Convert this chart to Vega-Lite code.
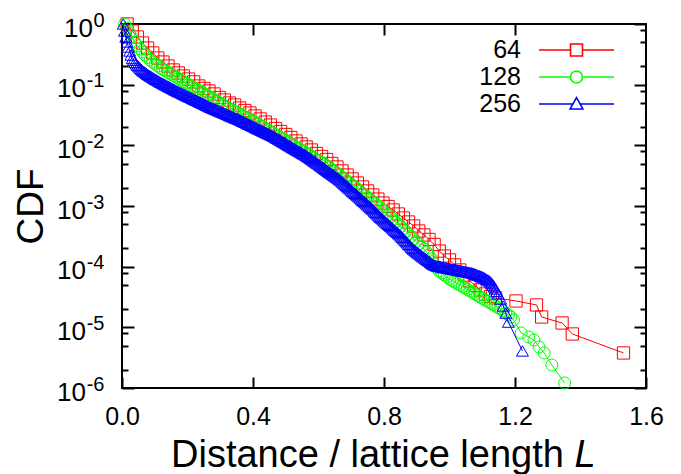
{
"$schema":"https://vega.github.io/schema/vega-lite/v6.json",
"width":524,"height":364,
"autosize":{"type":"none"},
"padding":{"left":122,"top":24,"right":35,"bottom":86},
"background":"white",
"config":{"font":"Liberation Sans","view":{"stroke":"#000000","strokeWidth":2},
"axis":{"domain":false,"grid":false,"tickColor":"#000000","tickWidth":2,"labelColor":"#000000","labelFont":"Liberation Sans","titleFont":"Liberation Sans","titleColor":"#000000","titleFontWeight":"normal","labelFlush":false,"labelOverlap":false}},
"datasets":{
"d64":[
{"s":"64","x":0.0156,"y":1},{"s":"64","x":0.0313,"y":0.766},{"s":"64","x":0.0469,"y":0.611},{"s":"64","x":0.0625,"y":0.486},{"s":"64","x":0.0781,"y":0.402},{"s":"64","x":0.0938,"y":0.333},{"s":"64","x":0.1094,"y":0.275},{"s":"64","x":0.125,"y":0.236},{"s":"64","x":0.1406,"y":0.203},{"s":"64","x":0.1563,"y":0.1745},{"s":"64","x":0.1719,"y":0.156},{"s":"64","x":0.1875,"y":0.139},{"s":"64","x":0.2031,"y":0.124},{"s":"64","x":0.2188,"y":0.111},{"s":"64","x":0.2344,"y":0.0951},{"s":"64","x":0.25,"y":0.0865},{"s":"64","x":0.2656,"y":0.0787},{"s":"64","x":0.2813,"y":0.0702},{"s":"64","x":0.2969,"y":0.0615},{"s":"64","x":0.3125,"y":0.0559},{"s":"64","x":0.3281,"y":0.0499},{"s":"64","x":0.3438,"y":0.0462},{"s":"64","x":0.3594,"y":0.0412},{"s":"64","x":0.375,"y":0.0375},{"s":"64","x":0.3906,"y":0.0341},{"s":"64","x":0.4063,"y":0.0305},{"s":"64","x":0.4219,"y":0.0272},{"s":"64","x":0.4375,"y":0.0242},{"s":"64","x":0.4531,"y":0.0216},{"s":"64","x":0.4688,"y":0.0189},{"s":"64","x":0.4844,"y":0.0169},{"s":"64","x":0.5,"y":0.0151},{"s":"64","x":0.5156,"y":0.01346},{"s":"64","x":0.5313,"y":0.01179},{"s":"64","x":0.5469,"y":0.01052},{"s":"64","x":0.5625,"y":0.00939},{"s":"64","x":0.5781,"y":0.00838},{"s":"64","x":0.5938,"y":0.00734},{"s":"64","x":0.6094,"y":0.00655},{"s":"64","x":0.625,"y":0.00584},{"s":"64","x":0.6406,"y":0.00502},{"s":"64","x":0.6563,"y":0.0044},{"s":"64","x":0.6719,"y":0.00378},{"s":"64","x":0.6875,"y":0.00324},{"s":"64","x":0.7031,"y":0.00279},{"s":"64","x":0.7188,"y":0.00239},{"s":"64","x":0.7344,"y":0.00206},{"s":"64","x":0.75,"y":0.00177},{"s":"64","x":0.7656,"y":0.00152},{"s":"64","x":0.7813,"y":0.0013},{"s":"64","x":0.7969,"y":0.00112},{"s":"64","x":0.8125,"y":0.000981},{"s":"64","x":0.8281,"y":0.000859},{"s":"64","x":0.8438,"y":0.000738},{"s":"64","x":0.8594,"y":0.000634},{"s":"64","x":0.875,"y":0.000545},{"s":"64","x":0.8906,"y":0.000468},{"s":"64","x":0.9063,"y":0.000387},{"s":"64","x":0.9219,"y":0.000333},{"s":"64","x":0.9375,"y":0.000281},{"s":"64","x":0.9531,"y":0.000232},{"s":"64","x":0.9688,"y":0.000181},{"s":"64","x":0.9844,"y":0.00015},{"s":"64","x":1.0,"y":0.000129},{"s":"64","x":1.0156,"y":0.000107},{"s":"64","x":1.0313,"y":0.0000882},{"s":"64","x":1.0469,"y":0.0000729},{"s":"64","x":1.0625,"y":0.0000581},{"s":"64","x":1.0781,"y":0.000049},{"s":"64","x":1.0938,"y":0.0000413},{"s":"64","x":1.1094,"y":0.0000355},{"s":"64","x":1.125,"y":0.0000323},{"s":"64","x":1.1406,"y":0.0000305},{"s":"64","x":1.2031,"y":0.0000272},{"s":"64","x":1.2656,"y":0.0000234},{"s":"64","x":1.2813,"y":0.0000148},{"s":"64","x":1.3438,"y":0.0000118},{"s":"64","x":1.375,"y":0.00000777},{"s":"64","x":1.5313,"y":0.00000378}
],
"d128":[
{"s":"128","x":0.0078,"y":1},{"s":"128","x":0.0156,"y":0.859},{"s":"128","x":0.0234,"y":0.711},{"s":"128","x":0.0313,"y":0.599},{"s":"128","x":0.0391,"y":0.505},{"s":"128","x":0.0469,"y":0.442},{"s":"128","x":0.0547,"y":0.387},{"s":"128","x":0.0625,"y":0.3455},{"s":"128","x":0.0703,"y":0.308},{"s":"128","x":0.0781,"y":0.2805},{"s":"128","x":0.0859,"y":0.255},{"s":"128","x":0.0938,"y":0.236},{"s":"128","x":0.1016,"y":0.219},{"s":"128","x":0.1094,"y":0.203},{"s":"128","x":0.1172,"y":0.188},{"s":"128","x":0.125,"y":0.178},{"s":"128","x":0.1328,"y":0.168},{"s":"128","x":0.1406,"y":0.159},{"s":"128","x":0.1484,"y":0.15},{"s":"128","x":0.1563,"y":0.1416},{"s":"128","x":0.1641,"y":0.1338},{"s":"128","x":0.1719,"y":0.1264},{"s":"128","x":0.1797,"y":0.1194},{"s":"128","x":0.1875,"y":0.1128},{"s":"128","x":0.1953,"y":0.1065},{"s":"128","x":0.2031,"y":0.1006},{"s":"128","x":0.2109,"y":0.0951},{"s":"128","x":0.2188,"y":0.0898},{"s":"128","x":0.2266,"y":0.0848},{"s":"128","x":0.2344,"y":0.0801},{"s":"128","x":0.2422,"y":0.0757},{"s":"128","x":0.25,"y":0.0715},{"s":"128","x":0.2578,"y":0.0676},{"s":"128","x":0.2656,"y":0.0638},{"s":"128","x":0.2734,"y":0.0603},{"s":"128","x":0.2813,"y":0.0569},{"s":"128","x":0.2891,"y":0.0538},{"s":"128","x":0.2969,"y":0.0508},{"s":"128","x":0.3047,"y":0.048},{"s":"128","x":0.3125,"y":0.0454},{"s":"128","x":0.3203,"y":0.0428},{"s":"128","x":0.3281,"y":0.0405},{"s":"128","x":0.3359,"y":0.0382},{"s":"128","x":0.3438,"y":0.0361},{"s":"128","x":0.3516,"y":0.0348},{"s":"128","x":0.3594,"y":0.0328},{"s":"128","x":0.3672,"y":0.031},{"s":"128","x":0.375,"y":0.0293},{"s":"128","x":0.3828,"y":0.0277},{"s":"128","x":0.3906,"y":0.0267},{"s":"128","x":0.3984,"y":0.0252},{"s":"128","x":0.4063,"y":0.0238},{"s":"128","x":0.4141,"y":0.0225},{"s":"128","x":0.4219,"y":0.0212},{"s":"128","x":0.4297,"y":0.0201},{"s":"128","x":0.4375,"y":0.0189},{"s":"128","x":0.4453,"y":0.0179},{"s":"128","x":0.4531,"y":0.0169},{"s":"128","x":0.4609,"y":0.016},{"s":"128","x":0.4688,"y":0.0151},{"s":"128","x":0.4766,"y":0.01425},{"s":"128","x":0.4844,"y":0.01346},{"s":"128","x":0.4922,"y":0.01272},{"s":"128","x":0.5,"y":0.01202},{"s":"128","x":0.5078,"y":0.01135},{"s":"128","x":0.5156,"y":0.01072},{"s":"128","x":0.5234,"y":0.01005},{"s":"128","x":0.5313,"y":0.00939},{"s":"128","x":0.5391,"y":0.00887},{"s":"128","x":0.5469,"y":0.00838},{"s":"128","x":0.5547,"y":0.00792},{"s":"128","x":0.5625,"y":0.00748},{"s":"128","x":0.5703,"y":0.00706},{"s":"128","x":0.5781,"y":0.00667},{"s":"128","x":0.5859,"y":0.00626},{"s":"128","x":0.5938,"y":0.00584},{"s":"128","x":0.6016,"y":0.00552},{"s":"128","x":0.6094,"y":0.00521},{"s":"128","x":0.6172,"y":0.00493},{"s":"128","x":0.625,"y":0.00462},{"s":"128","x":0.6328,"y":0.00431},{"s":"128","x":0.6406,"y":0.004},{"s":"128","x":0.6484,"y":0.0037},{"s":"128","x":0.6563,"y":0.0035},{"s":"128","x":0.6641,"y":0.00324},{"s":"128","x":0.6719,"y":0.00301},{"s":"128","x":0.6797,"y":0.00279},{"s":"128","x":0.6875,"y":0.00258},{"s":"128","x":0.6953,"y":0.00239},{"s":"128","x":0.7031,"y":0.00222},{"s":"128","x":0.7109,"y":0.00206},{"s":"128","x":0.7188,"y":0.00191},{"s":"128","x":0.7266,"y":0.00175},{"s":"128","x":0.7344,"y":0.00161},{"s":"128","x":0.7422,"y":0.00149},{"s":"128","x":0.75,"y":0.00138},{"s":"128","x":0.7578,"y":0.00128},{"s":"128","x":0.7656,"y":0.00119},{"s":"128","x":0.7734,"y":0.00109},{"s":"128","x":0.7813,"y":0.001},{"s":"128","x":0.7891,"y":0.000927},{"s":"128","x":0.7969,"y":0.000843},{"s":"128","x":0.8047,"y":0.000767},{"s":"128","x":0.8125,"y":0.000711},{"s":"128","x":0.8203,"y":0.000659},{"s":"128","x":0.8281,"y":0.000599},{"s":"128","x":0.8359,"y":0.000545},{"s":"128","x":0.8438,"y":0.000505},{"s":"128","x":0.8516,"y":0.00046},{"s":"128","x":0.8594,"y":0.000418},{"s":"128","x":0.8672,"y":0.00038},{"s":"128","x":0.875,"y":0.000346},{"s":"128","x":0.8828,"y":0.000314},{"s":"128","x":0.8906,"y":0.000286},{"s":"128","x":0.8984,"y":0.00026},{"s":"128","x":0.9063,"y":0.000236},{"s":"128","x":0.9141,"y":0.000215},{"s":"128","x":0.9219,"y":0.000196},{"s":"128","x":0.9297,"y":0.000174},{"s":"128","x":0.9375,"y":0.000156},{"s":"128","x":0.9453,"y":0.000134},{"s":"128","x":0.9531,"y":0.000111},{"s":"128","x":0.9609,"y":0.0000951},{"s":"128","x":0.9688,"y":0.0000849},{"s":"128","x":0.9766,"y":0.0000787},{"s":"128","x":0.9844,"y":0.0000729},{"s":"128","x":0.9922,"y":0.0000676},{"s":"128","x":1.0,"y":0.0000626},{"s":"128","x":1.0078,"y":0.0000592},{"s":"128","x":1.0156,"y":0.0000559},{"s":"128","x":1.0234,"y":0.0000528},{"s":"128","x":1.0313,"y":0.0000499},{"s":"128","x":1.0391,"y":0.0000471},{"s":"128","x":1.0469,"y":0.0000445},{"s":"128","x":1.0547,"y":0.0000421},{"s":"128","x":1.0625,"y":0.0000397},{"s":"128","x":1.0703,"y":0.0000375},{"s":"128","x":1.0781,"y":0.0000355},{"s":"128","x":1.0859,"y":0.0000335},{"s":"128","x":1.0938,"y":0.0000316},{"s":"128","x":1.1016,"y":0.0000299},{"s":"128","x":1.1094,"y":0.0000282},{"s":"128","x":1.1172,"y":0.0000267},{"s":"128","x":1.125,"y":0.0000252},{"s":"128","x":1.1328,"y":0.0000238},{"s":"128","x":1.1406,"y":0.0000225},{"s":"128","x":1.1484,"y":0.0000212},{"s":"128","x":1.1563,"y":0.0000201},{"s":"128","x":1.1641,"y":0.0000186},{"s":"128","x":1.1719,"y":0.0000172},{"s":"128","x":1.1797,"y":0.000016},{"s":"128","x":1.1875,"y":0.0000148},{"s":"128","x":1.1953,"y":0.0000132},{"s":"128","x":1.2188,"y":0.00000807},{"s":"128","x":1.2422,"y":0.00000693},{"s":"128","x":1.2578,"y":0.00000619},{"s":"128","x":1.2734,"y":0.00000474},{"s":"128","x":1.2891,"y":0.00000378},{"s":"128","x":1.3125,"y":0.00000239},{"s":"128","x":1.3516,"y":0.00000121}
],
"d256":[
{"s":"256","x":0.0039,"y":1},{"s":"256","x":0.0078,"y":0.766},{"s":"256","x":0.0117,"y":0.6105},{"s":"256","x":0.0156,"y":0.505},{"s":"256","x":0.0195,"y":0.418},{"s":"256","x":0.0234,"y":0.359},{"s":"256","x":0.0273,"y":0.308},{"s":"256","x":0.0313,"y":0.27},{"s":"256","x":0.0352,"y":0.252},{"s":"256","x":0.0391,"y":0.2337},{"s":"256","x":0.043,"y":0.2207},{"s":"256","x":0.0469,"y":0.2078},{"s":"256","x":0.0508,"y":0.198},{"s":"256","x":0.0547,"y":0.1882},{"s":"256","x":0.0586,"y":0.1797},{"s":"256","x":0.0625,"y":0.1713},{"s":"256","x":0.0664,"y":0.1653},{"s":"256","x":0.0703,"y":0.1593},{"s":"256","x":0.0742,"y":0.1537},{"s":"256","x":0.0781,"y":0.1482},{"s":"256","x":0.082,"y":0.1436},{"s":"256","x":0.0859,"y":0.139},{"s":"256","x":0.0898,"y":0.1349},{"s":"256","x":0.0938,"y":0.1308},{"s":"256","x":0.0977,"y":0.127},{"s":"256","x":0.1016,"y":0.1231},{"s":"256","x":0.1055,"y":0.1197},{"s":"256","x":0.1094,"y":0.1163},{"s":"256","x":0.1133,"y":0.113},{"s":"256","x":0.1172,"y":0.1098},{"s":"256","x":0.1211,"y":0.1071},{"s":"256","x":0.125,"y":0.1045},{"s":"256","x":0.1289,"y":0.1018},{"s":"256","x":0.1328,"y":0.0991},{"s":"256","x":0.1367,"y":0.0965},{"s":"256","x":0.1406,"y":0.094},{"s":"256","x":0.1445,"y":0.0917},{"s":"256","x":0.1484,"y":0.0895},{"s":"256","x":0.1523,"y":0.0871},{"s":"256","x":0.1563,"y":0.0848},{"s":"256","x":0.1602,"y":0.0826},{"s":"256","x":0.1641,"y":0.0804},{"s":"256","x":0.168,"y":0.0786},{"s":"256","x":0.1719,"y":0.0769},{"s":"256","x":0.1758,"y":0.0752},{"s":"256","x":0.1797,"y":0.0735},{"s":"256","x":0.1836,"y":0.0717},{"s":"256","x":0.1875,"y":0.0699},{"s":"256","x":0.1914,"y":0.0682},{"s":"256","x":0.1953,"y":0.0665},{"s":"256","x":0.1992,"y":0.065},{"s":"256","x":0.2031,"y":0.0636},{"s":"256","x":0.207,"y":0.0622},{"s":"256","x":0.2109,"y":0.0608},{"s":"256","x":0.2148,"y":0.0593},{"s":"256","x":0.2188,"y":0.0578},{"s":"256","x":0.2227,"y":0.0565},{"s":"256","x":0.2266,"y":0.0553},{"s":"256","x":0.2305,"y":0.054},{"s":"256","x":0.2344,"y":0.0526},{"s":"256","x":0.2383,"y":0.0514},{"s":"256","x":0.2422,"y":0.0503},{"s":"256","x":0.2461,"y":0.0491},{"s":"256","x":0.25,"y":0.048},{"s":"256","x":0.2539,"y":0.0468},{"s":"256","x":0.2578,"y":0.0457},{"s":"256","x":0.2617,"y":0.0446},{"s":"256","x":0.2656,"y":0.0435},{"s":"256","x":0.2695,"y":0.0426},{"s":"256","x":0.2734,"y":0.0417},{"s":"256","x":0.2773,"y":0.0408},{"s":"256","x":0.2813,"y":0.04},{"s":"256","x":0.2852,"y":0.0392},{"s":"256","x":0.2891,"y":0.0384},{"s":"256","x":0.293,"y":0.0376},{"s":"256","x":0.2969,"y":0.0368},{"s":"256","x":0.3008,"y":0.036},{"s":"256","x":0.3047,"y":0.0353},{"s":"256","x":0.3086,"y":0.0346},{"s":"256","x":0.3125,"y":0.0339},{"s":"256","x":0.3164,"y":0.0332},{"s":"256","x":0.3203,"y":0.0325},{"s":"256","x":0.3242,"y":0.0317},{"s":"256","x":0.3281,"y":0.031},{"s":"256","x":0.332,"y":0.0304},{"s":"256","x":0.3359,"y":0.0299},{"s":"256","x":0.3398,"y":0.0292},{"s":"256","x":0.3438,"y":0.0285},{"s":"256","x":0.3477,"y":0.028},{"s":"256","x":0.3516,"y":0.0275},{"s":"256","x":0.3555,"y":0.0269},{"s":"256","x":0.3594,"y":0.0263},{"s":"256","x":0.3633,"y":0.0257},{"s":"256","x":0.3672,"y":0.0251},{"s":"256","x":0.3711,"y":0.0245},{"s":"256","x":0.375,"y":0.024},{"s":"256","x":0.3789,"y":0.0234},{"s":"256","x":0.3828,"y":0.0228},{"s":"256","x":0.3867,"y":0.0223},{"s":"256","x":0.3906,"y":0.0218},{"s":"256","x":0.3945,"y":0.0213},{"s":"256","x":0.3984,"y":0.0208},{"s":"256","x":0.4023,"y":0.0203},{"s":"256","x":0.4063,"y":0.0198},{"s":"256","x":0.4102,"y":0.0193},{"s":"256","x":0.4141,"y":0.0189},{"s":"256","x":0.418,"y":0.0184},{"s":"256","x":0.4219,"y":0.018},{"s":"256","x":0.4258,"y":0.0176},{"s":"256","x":0.4297,"y":0.0172},{"s":"256","x":0.4336,"y":0.0168},{"s":"256","x":0.4375,"y":0.0164},{"s":"256","x":0.4414,"y":0.016},{"s":"256","x":0.4453,"y":0.0157},{"s":"256","x":0.4492,"y":0.0153},{"s":"256","x":0.4531,"y":0.015},{"s":"256","x":0.457,"y":0.0146},{"s":"256","x":0.4609,"y":0.01425},{"s":"256","x":0.4648,"y":0.01385},{"s":"256","x":0.4688,"y":0.01346},{"s":"256","x":0.4727,"y":0.01309},{"s":"256","x":0.4766,"y":0.01272},{"s":"256","x":0.4805,"y":0.01237},{"s":"256","x":0.4844,"y":0.01202},{"s":"256","x":0.4883,"y":0.01168},{"s":"256","x":0.4922,"y":0.01135},{"s":"256","x":0.4961,"y":0.01103},{"s":"256","x":0.5,"y":0.01072},{"s":"256","x":0.5039,"y":0.0104},{"s":"256","x":0.5078,"y":0.01009},{"s":"256","x":0.5117,"y":0.0098},{"s":"256","x":0.5156,"y":0.00953},{"s":"256","x":0.5195,"y":0.00926},{"s":"256","x":0.5234,"y":0.009},{"s":"256","x":0.5273,"y":0.00875},{"s":"256","x":0.5313,"y":0.0085},{"s":"256","x":0.5352,"y":0.00827},{"s":"256","x":0.5391,"y":0.00804},{"s":"256","x":0.543,"y":0.0078},{"s":"256","x":0.5469,"y":0.00759},{"s":"256","x":0.5508,"y":0.00738},{"s":"256","x":0.5547,"y":0.00717},{"s":"256","x":0.5586,"y":0.00697},{"s":"256","x":0.5625,"y":0.00678},{"s":"256","x":0.5664,"y":0.00656},{"s":"256","x":0.5703,"y":0.00635},{"s":"256","x":0.5742,"y":0.00614},{"s":"256","x":0.5781,"y":0.00593},{"s":"256","x":0.582,"y":0.00572},{"s":"256","x":0.5859,"y":0.00552},{"s":"256","x":0.5898,"y":0.00533},{"s":"256","x":0.5938,"y":0.00514},{"s":"256","x":0.5977,"y":0.00497},{"s":"256","x":0.6016,"y":0.0048},{"s":"256","x":0.6055,"y":0.00463},{"s":"256","x":0.6094,"y":0.00446},{"s":"256","x":0.6133,"y":0.00431},{"s":"256","x":0.6172,"y":0.00417},{"s":"256","x":0.6211,"y":0.00402},{"s":"256","x":0.625,"y":0.00388},{"s":"256","x":0.6289,"y":0.00374},{"s":"256","x":0.6328,"y":0.00361},{"s":"256","x":0.6367,"y":0.00349},{"s":"256","x":0.6406,"y":0.00337},{"s":"256","x":0.6445,"y":0.00325},{"s":"256","x":0.6484,"y":0.00314},{"s":"256","x":0.6523,"y":0.00303},{"s":"256","x":0.6563,"y":0.00293},{"s":"256","x":0.6602,"y":0.00282},{"s":"256","x":0.6641,"y":0.00272},{"s":"256","x":0.668,"y":0.00261},{"s":"256","x":0.6719,"y":0.0025},{"s":"256","x":0.6758,"y":0.0024},{"s":"256","x":0.6797,"y":0.0023},{"s":"256","x":0.6836,"y":0.0022},{"s":"256","x":0.6875,"y":0.0021},{"s":"256","x":0.6914,"y":0.00201},{"s":"256","x":0.6953,"y":0.00193},{"s":"256","x":0.6992,"y":0.00184},{"s":"256","x":0.7031,"y":0.00176},{"s":"256","x":0.707,"y":0.00169},{"s":"256","x":0.7109,"y":0.00162},{"s":"256","x":0.7148,"y":0.00155},{"s":"256","x":0.7188,"y":0.00148},{"s":"256","x":0.7227,"y":0.00142},{"s":"256","x":0.7266,"y":0.00136},{"s":"256","x":0.7305,"y":0.0013},{"s":"256","x":0.7344,"y":0.00124},{"s":"256","x":0.7383,"y":0.00119},{"s":"256","x":0.7422,"y":0.00114},{"s":"256","x":0.7461,"y":0.00109},{"s":"256","x":0.75,"y":0.00104},{"s":"256","x":0.7539,"y":0.000998},{"s":"256","x":0.7578,"y":0.000956},{"s":"256","x":0.7617,"y":0.000912},{"s":"256","x":0.7656,"y":0.000869},{"s":"256","x":0.7695,"y":0.000828},{"s":"256","x":0.7734,"y":0.000788},{"s":"256","x":0.7773,"y":0.000751},{"s":"256","x":0.7813,"y":0.000714},{"s":"256","x":0.7852,"y":0.000681},{"s":"256","x":0.7891,"y":0.000649},{"s":"256","x":0.793,"y":0.000622},{"s":"256","x":0.7969,"y":0.000595},{"s":"256","x":0.8008,"y":0.00057},{"s":"256","x":0.8047,"y":0.000545},{"s":"256","x":0.8086,"y":0.000522},{"s":"256","x":0.8125,"y":0.0005},{"s":"256","x":0.8164,"y":0.00048},{"s":"256","x":0.8203,"y":0.00046},{"s":"256","x":0.8242,"y":0.000439},{"s":"256","x":0.8281,"y":0.000419},{"s":"256","x":0.832,"y":0.000401},{"s":"256","x":0.8359,"y":0.000384},{"s":"256","x":0.8398,"y":0.000368},{"s":"256","x":0.8438,"y":0.000352},{"s":"256","x":0.8477,"y":0.000336},{"s":"256","x":0.8516,"y":0.00032},{"s":"256","x":0.8555,"y":0.000304},{"s":"256","x":0.8594,"y":0.000289},{"s":"256","x":0.8633,"y":0.000274},{"s":"256","x":0.8672,"y":0.00026},{"s":"256","x":0.8711,"y":0.000247},{"s":"256","x":0.875,"y":0.000234},{"s":"256","x":0.8789,"y":0.000222},{"s":"256","x":0.8828,"y":0.000211},{"s":"256","x":0.8867,"y":0.000201},{"s":"256","x":0.8906,"y":0.000191},{"s":"256","x":0.8945,"y":0.000184},{"s":"256","x":0.8984,"y":0.000177},{"s":"256","x":0.9023,"y":0.00017},{"s":"256","x":0.9063,"y":0.000164},{"s":"256","x":0.9102,"y":0.000158},{"s":"256","x":0.9141,"y":0.000152},{"s":"256","x":0.918,"y":0.000146},{"s":"256","x":0.9219,"y":0.000141},{"s":"256","x":0.9258,"y":0.000136},{"s":"256","x":0.9297,"y":0.000132},{"s":"256","x":0.9336,"y":0.000127},{"s":"256","x":0.9375,"y":0.000123},{"s":"256","x":0.9414,"y":0.000118},{"s":"256","x":0.9453,"y":0.000113},{"s":"256","x":0.9492,"y":0.00011},{"s":"256","x":0.9531,"y":0.0001066},{"s":"256","x":0.957,"y":0.000105},{"s":"256","x":0.9609,"y":0.0001026},{"s":"256","x":0.9648,"y":0.000102},{"s":"256","x":0.9688,"y":0.0001007},{"s":"256","x":0.9727,"y":0.0000997},{"s":"256","x":0.9766,"y":0.0000988},{"s":"256","x":0.9805,"y":0.0000979},{"s":"256","x":0.9844,"y":0.000097},{"s":"256","x":0.9883,"y":0.000096},{"s":"256","x":0.9922,"y":0.0000951},{"s":"256","x":0.9961,"y":0.0000942},{"s":"256","x":1.0,"y":0.0000933},{"s":"256","x":1.0039,"y":0.0000924},{"s":"256","x":1.0078,"y":0.0000916},{"s":"256","x":1.0117,"y":0.0000907},{"s":"256","x":1.0156,"y":0.0000899},{"s":"256","x":1.0195,"y":0.000089},{"s":"256","x":1.0234,"y":0.0000882},{"s":"256","x":1.0273,"y":0.0000873},{"s":"256","x":1.0313,"y":0.0000865},{"s":"256","x":1.0352,"y":0.0000857},{"s":"256","x":1.0391,"y":0.0000849},{"s":"256","x":1.043,"y":0.0000841},{"s":"256","x":1.0469,"y":0.0000833},{"s":"256","x":1.0508,"y":0.0000825},{"s":"256","x":1.0547,"y":0.0000817},{"s":"256","x":1.0586,"y":0.000081},{"s":"256","x":1.0625,"y":0.0000802},{"s":"256","x":1.0664,"y":0.0000794},{"s":"256","x":1.0703,"y":0.0000787},{"s":"256","x":1.0742,"y":0.0000772},{"s":"256","x":1.0781,"y":0.0000757},{"s":"256","x":1.082,"y":0.0000743},{"s":"256","x":1.0859,"y":0.0000729},{"s":"256","x":1.0898,"y":0.0000715},{"s":"256","x":1.0938,"y":0.0000702},{"s":"256","x":1.0977,"y":0.0000689},{"s":"256","x":1.1016,"y":0.0000676},{"s":"256","x":1.1055,"y":0.0000657},{"s":"256","x":1.1094,"y":0.0000639},{"s":"256","x":1.1133,"y":0.0000621},{"s":"256","x":1.1172,"y":0.0000603},{"s":"256","x":1.1211,"y":0.0000581},{"s":"256","x":1.125,"y":0.0000559},{"s":"256","x":1.1289,"y":0.0000529},{"s":"256","x":1.1328,"y":0.0000499},{"s":"256","x":1.1367,"y":0.0000464},{"s":"256","x":1.1406,"y":0.0000429},{"s":"256","x":1.1445,"y":0.0000392},{"s":"256","x":1.1484,"y":0.0000355},{"s":"256","x":1.1563,"y":0.0000293},{"s":"256","x":1.1641,"y":0.0000225},{"s":"256","x":1.1719,"y":0.0000172},{"s":"256","x":1.1797,"y":0.0000122},{"s":"256","x":1.2227,"y":0.00000408}
]
},
"layer":[
{"data":{"name":"d64"},"mark":{"type":"line","strokeWidth":1,"clip":false},
 "encoding":{
  "x":{"field":"x","type":"quantitative","scale":{"domain":[0,1.6],"nice":false,"zero":false},
   "axis":{"orient":"bottom","values":[0,0.4,0.8,1.2,1.6],"format":".1f","tickSize":11,"offset":-11,"labelFontSize":25,"labelBaseline":"alphabetic","labelAlign":"center","labelPadding":36,"title":"Distance / lattice length","titleFontSize":38,"titleX":48.5,"titleY":89,"titleAlign":"left","titleAnchor":"start","titleBaseline":"alphabetic"}},
  "y":{"field":"y","type":"quantitative","scale":{"type":"log","domain":[0.000001,1],"nice":false},
   "axis":{"orient":"left","values":[0.000001,0.00001,0.0001,0.001,0.01,0.1],"labelExpr":"'10'","tickSize":12,"offset":-12,"labelFontSize":26,"labelAlign":"right","labelBaseline":"alphabetic","labelPadding":36.5,"labelOffset":12,
    "title":"CDF","titleFontSize":37,"titleAngle":-90,"titleX":-92,"titleY":182,"titleAlign":"center","titleBaseline":"alphabetic"}},
  "color":{"field":"s","type":"nominal","scale":{"domain":["64","128","256"],"range":["#ff0000","#00ff00","#0000ff"]},
   "legend":{"orient":"none","legendX":351,"legendY":12,"title":null,"direction":"vertical","padding":0,"rowPadding":0,"symbolSize":676,"symbolStrokeWidth":1,"symbolOffset":89.5,"labelOffset":-69.5,"labelAlign":"right","labelBaseline":"middle","labelFontSize":25,"labelFont":"Liberation Sans","labelColor":"#000000","labelLimit":300,
    "encode":{"symbols":{"update":{"shape":{"signal":"datum.value === '64' ? 'M-2.885,0H-0.46M0.46,0H2.885M-0.46,-0.46H0.46V0.46H-0.46Z' : datum.value === '128' ? 'M-2.885,0H-0.46M0.46,0H2.885M0.46,0A0.46,0.46,0,1,1,-0.46,0A0.46,0.46,0,1,1,0.46,0Z' : 'M-2.885,0H-0.28M0.28,0H2.885M0,-0.49L0.49,0.38H-0.49Z'"},"size":{"value":676},"strokeWidth":{"value":1.6},"fill":{"value":"transparent"},"opacity":{"value":1},"strokeOpacity":{"value":1},"strokeDash":{"value":[]},"stroke":{"signal":"datum.value === '64' ? '#ff0000' : datum.value === '128' ? '#00ff00' : '#0000ff'"}}}}}}
 }},
{"data":{"name":"d64"},"mark":{"type":"point","shape":"square","filled":false,"size":150,"strokeWidth":1,"opacity":1},
 "encoding":{
  "x":{"field":"x","type":"quantitative","scale":{"domain":[0,1.6],"nice":false,"zero":false},
   "axis":{"orient":"top","values":[0.4,0.8,1.2],"tickSize":11,"offset":-11,"labels":false,"title":null}},
  "y":{"field":"y","type":"quantitative","scale":{"type":"log","domain":[0.000001,1],"nice":false},
   "axis":{"orient":"left","values":[0.000001,0.00001,0.0001,0.001,0.01,0.1,1],"labelExpr":"'' + round(log(datum.value) / LN10)","ticks":false,"tickSize":0,"offset":0,"labelFontSize":20,"labelAlign":"right","labelBaseline":"alphabetic","labelPadding":18,"labelOffset":2,"title":null}},
  "color":{"field":"s","type":"nominal","scale":{"domain":["64","128","256"],"range":["#ff0000","#00ff00","#0000ff"]},"legend":null}
 }},
{"data":{"name":"d128"},"mark":{"type":"line","strokeWidth":1,"clip":false},
 "encoding":{
  "x":{"field":"x","type":"quantitative","scale":{"domain":[0,1.6],"nice":false,"zero":false},
   "axis":{"orient":"bottom","ticks":false,"labels":false,"offset":0,"title":"L","titleFontSize":38,"titleFontStyle":"italic","titleX":452,"titleY":78,"titleAlign":"left","titleAnchor":"start","titleBaseline":"alphabetic"}},
  "y":{"field":"y","type":"quantitative","scale":{"type":"log","domain":[0.000001,1],"nice":false},
   "axis":{"orient":"left","values":[0.000002,0.000005,0.000008,0.00002,0.00005,0.00008,0.0002,0.0005,0.0008,0.002,0.005,0.008,0.02,0.05,0.08,0.2,0.5,0.8],"tickSize":6,"offset":-6,"labels":false,"title":null}},
  "color":{"field":"s","type":"nominal","scale":{"domain":["64","128","256"],"range":["#ff0000","#00ff00","#0000ff"]},"legend":null}
 }},
{"data":{"name":"d128"},"mark":{"type":"point","shape":"circle","filled":false,"size":144,"strokeWidth":1,"opacity":1},
 "encoding":{
  "x":{"field":"x","type":"quantitative","scale":{"domain":[0,1.6],"nice":false,"zero":false},"axis":null},
  "y":{"field":"y","type":"quantitative","scale":{"type":"log","domain":[0.000001,1],"nice":false},
   "axis":{"orient":"right","values":[0.000001,0.00001,0.0001,0.001,0.01,0.1,1],"tickSize":12,"offset":-12,"labels":false,"title":null}},
  "color":{"field":"s","type":"nominal","scale":{"domain":["64","128","256"],"range":["#ff0000","#00ff00","#0000ff"]},"legend":null}
 }},
{"data":{"name":"d256"},"mark":{"type":"line","strokeWidth":1,"clip":false},
 "encoding":{
  "x":{"field":"x","type":"quantitative","scale":{"domain":[0,1.6],"nice":false,"zero":false},"axis":null},
  "y":{"field":"y","type":"quantitative","scale":{"type":"log","domain":[0.000001,1],"nice":false},
   "axis":{"orient":"right","values":[0.000002,0.000005,0.000008,0.00002,0.00005,0.00008,0.0002,0.0005,0.0008,0.002,0.005,0.008,0.02,0.05,0.08,0.2,0.5,0.8],"tickSize":6,"offset":-6,"labels":false,"title":null}},
  "color":{"field":"s","type":"nominal","scale":{"domain":["64","128","256"],"range":["#ff0000","#00ff00","#0000ff"]},"legend":null}
 }},
{"data":{"name":"d256"},"mark":{"type":"point","shape":"triangle-up","filled":false,"size":144,"strokeWidth":1,"opacity":1},
 "encoding":{
  "x":{"field":"x","type":"quantitative","scale":{"domain":[0,1.6],"nice":false,"zero":false},"axis":null},
  "y":{"field":"y","type":"quantitative","scale":{"type":"log","domain":[0.000001,1],"nice":false},
   "axis":{"orient":"left","values":[1],"labelExpr":"'10'","ticks":false,"tickSize":0,"offset":0,"labelFontSize":26,"labelAlign":"right","labelBaseline":"alphabetic","labelPadding":29.5,"labelOffset":12,"title":null}},
  "color":{"field":"s","type":"nominal","scale":{"domain":["64","128","256"],"range":["#ff0000","#00ff00","#0000ff"]},"legend":null}
 }}
],
"resolve":{"axis":{"x":"independent","y":"independent"}}
}
